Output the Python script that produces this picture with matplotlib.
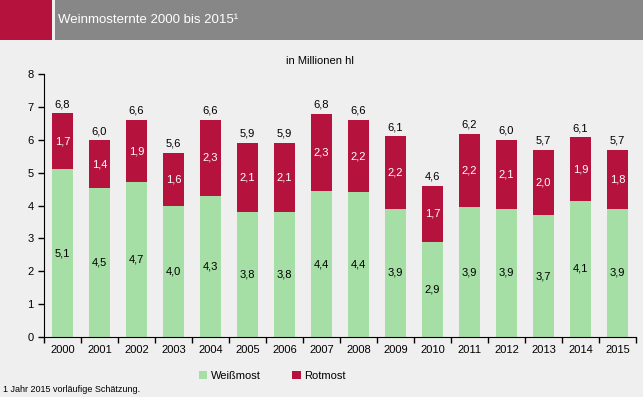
import matplotlib.pyplot as plt
import numpy as np
from matplotlib.patches import Rectangle

plt.rcParams['font.family'] = ['Liberation Sans', 'DejaVu Sans']

years = ["2000", "2001", "2002", "2003", "2004", "2005", "2006", "2007",
         "2008", "2009", "2010", "2011", "2012", "2013", "2014", "2015"]
weissmost = [5.1, 4.54, 4.7, 4.0, 4.3, 3.8, 3.8, 4.44, 4.4, 3.9, 2.9, 3.94, 3.9, 3.7, 4.14, 3.9]
rotmost = [1.7, 1.44, 1.9, 1.6, 2.3, 2.1, 2.1, 2.34, 2.2, 2.2, 1.7, 2.23, 2.1, 2.0, 1.93, 1.8]

greenColor = "#a5dfa5"
redColor = "#b5123e"
bgColor = "#eeefee"

fig = plt.figure(figsize=(6.43, 3.97), dpi=100, facecolor=bgColor)

# header band
fig.patches.append(Rectangle((0, 1 - 40 / 397), 52 / 643, 40 / 397, transform=fig.transFigure,
                             facecolor=redColor, edgecolor="none"))
fig.patches.append(Rectangle((55 / 643, 1 - 40 / 397), 1, 40 / 397, transform=fig.transFigure,
                             facecolor="#878787", edgecolor="none"))
fig.text(58 / 643, 1 - 20 / 397, "Weinmosternte 2000 bis 2015¹", color="white",
         fontsize=9.5, va="center", ha="left")

ax = fig.add_axes([44 / 643, 1 - 337 / 397, 592 / 643, 263 / 397])
ax.set_facecolor(bgColor)

x = np.arange(len(years))
barWidth = 0.57
weiss = np.array(weissmost)
rot = np.array(rotmost)
ax.bar(x, weiss, width=barWidth, color=greenColor, label="Weißmost")
ax.bar(x, rot, width=barWidth, bottom=weiss, color=redColor, label="Rotmost")


def fmt(v):
    return f"{v:.1f}".replace(".", ",")


for i in range(len(years)):
    ax.text(x[i], weiss[i] / 2, fmt(weiss[i]), ha="center", va="center", fontsize=8, color="black")
    ax.text(x[i], weiss[i] + rot[i] / 2, fmt(rot[i]), ha="center", va="center", fontsize=8, color="white")
    ax.annotate(fmt(weiss[i] + rot[i]), xy=(x[i], weiss[i] + rot[i]), xytext=(0, 3),
                textcoords="offset points", ha="center", va="bottom", fontsize=8)

ax.set_xlim(-0.5, len(years) - 0.5)
ax.set_ylim(0, 8)
ax.set_yticks(range(0, 9))
ax.set_xticks(x)
ax.set_xticklabels(years, fontsize=8)
ax.set_xticks(np.arange(-0.5, len(years)), minor=True)
ax.tick_params(axis="x", which="major", length=0, pad=6)
ax.tick_params(axis="x", which="minor", length=4, width=1)
ax.tick_params(axis="y", labelsize=8, length=4, width=1)
for side in ["top", "right"]:
    ax.spines[side].set_visible(False)

fig.text(320 / 643, 1 - 61 / 397, "in Millionen hl", fontsize=8, ha="center", va="center")

leg = fig.legend(loc="center", bbox_to_anchor=(272 / 643, 1 - 376 / 397), ncol=2, frameon=False,
                 fontsize=8, handlelength=0.8, handleheight=0.8, columnspacing=2.8, handletextpad=0.3)

fig.text(3 / 643, 1 - 389 / 397, "1 Jahr 2015 vorläufige Schätzung.", fontsize=6.5, ha="left", va="center")

fig.savefig("out.png", dpi=100, facecolor=bgColor)
